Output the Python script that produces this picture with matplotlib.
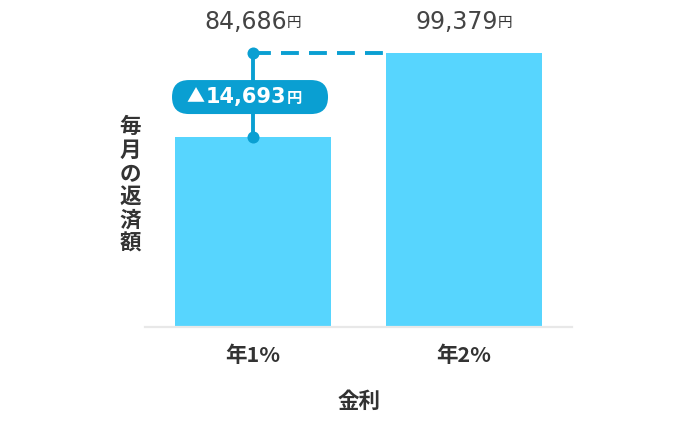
import matplotlib
matplotlib.use("Agg")
import matplotlib.pyplot as plt
import matplotlib.transforms as mtransforms
from matplotlib.patches import FancyBboxPatch

plt.rcParams['font.family'] = ['Noto Sans CJK JP', 'DejaVu Sans']
NUM_FONT = ['DejaVu Sans']

categories = ["年1%", "年2%"]
payments = [84686, 99379]
ylabel_text = "毎月の返済額"
xlabel_text = "金利"

BAR_COLOR = "#57D5FE"
ACCENT = "#0A9FD2"
TEXT = "#333333"

W, H = 690, 424
fig = plt.figure(figsize=(W / 100, H / 100), dpi=100)
ax = fig.add_axes([145 / W, (H - 327) / H, 427 / W, 274 / H])

x = list(range(len(categories)))
ax.bar(x, payments, width=0.74, color=BAR_COLOR, zorder=2)
ax.set_xlim(-0.512, 1.512)
ax.set_ylim(51500, max(payments))

for s in ["top", "right", "left"]:
    ax.spines[s].set_visible(False)
ax.spines["bottom"].set_color("#e8e8e8")
ax.spines["bottom"].set_linewidth(1.6)
ax.set_yticks([])
ax.tick_params(axis="x", length=0, pad=13)
ax.set_xticks(x)
ax.set_xticklabels(categories, fontsize=15.5, color=TEXT, fontweight="bold")

# value labels above, all on one line
trans = mtransforms.blended_transform_factory(ax.transData, fig.transFigure)
for i, v in enumerate(payments):
    ax.annotate(f"{v:,}", xy=(i, 1 - 22 / H), xycoords=trans,
                xytext=(34, 0), textcoords="offset pixels",
                ha="right", va="center", fontsize=17, color="#444444",
                family=NUM_FONT)
    ax.annotate("円", xy=(i, 1 - 22 / H), xycoords=trans,
                xytext=(34, -1), textcoords="offset pixels",
                ha="left", va="center", fontsize=10.5, color=TEXT)

# difference marker
lo, hi = payments
ax.plot([0, 0], [lo, hi], color=ACCENT, lw=2.8, zorder=3, clip_on=False,
        solid_capstyle="butt")
ax.plot([0, 1 - 0.37], [hi, hi], color=ACCENT, lw=2.8, zorder=3,
        clip_on=False, dashes=(4.6, 2.6))
ax.scatter([0, 0], [lo, hi], s=75, color=ACCENT, zorder=4, clip_on=False,
           linewidths=0)

fig.canvas.draw()
cx, cy = ax.transData.transform((0, (lo + hi) / 2))
cy -= 2
badge = FancyBboxPatch((cx - 81, cy - 17), 156, 34,
                       boxstyle="round,pad=0,rounding_size=17",
                       transform=None, fc=ACCENT, ec="none", zorder=5)
fig.patches.append(badge)
diff = hi - lo
fig.text((cx - 57.5) / W, cy / H, "▲", ha="center", va="center",
         fontsize=13, color="white", zorder=6)
fig.text((cx + 33) / W, cy / H, f"{diff:,}", ha="right", va="center",
         fontsize=15, color="white", fontweight="bold", family=NUM_FONT,
         zorder=6)
fig.text((cx + 34) / W, (cy - 1) / H, "円", ha="left", va="center",
         fontsize=11, color="white", fontweight="bold", zorder=6)

# stacked vertical y label
fig.text(130 / W, 1 - 185 / H, "\n".join(ylabel_text), ha="center",
         va="center", fontsize=15.5, color=TEXT, fontweight="bold",
         linespacing=1.14)

fig.text(359 / W, 1 - 401 / H, xlabel_text, ha="center", va="center",
         fontsize=15.5, color=TEXT, fontweight="bold")

fig.savefig("out.png", dpi=100)
